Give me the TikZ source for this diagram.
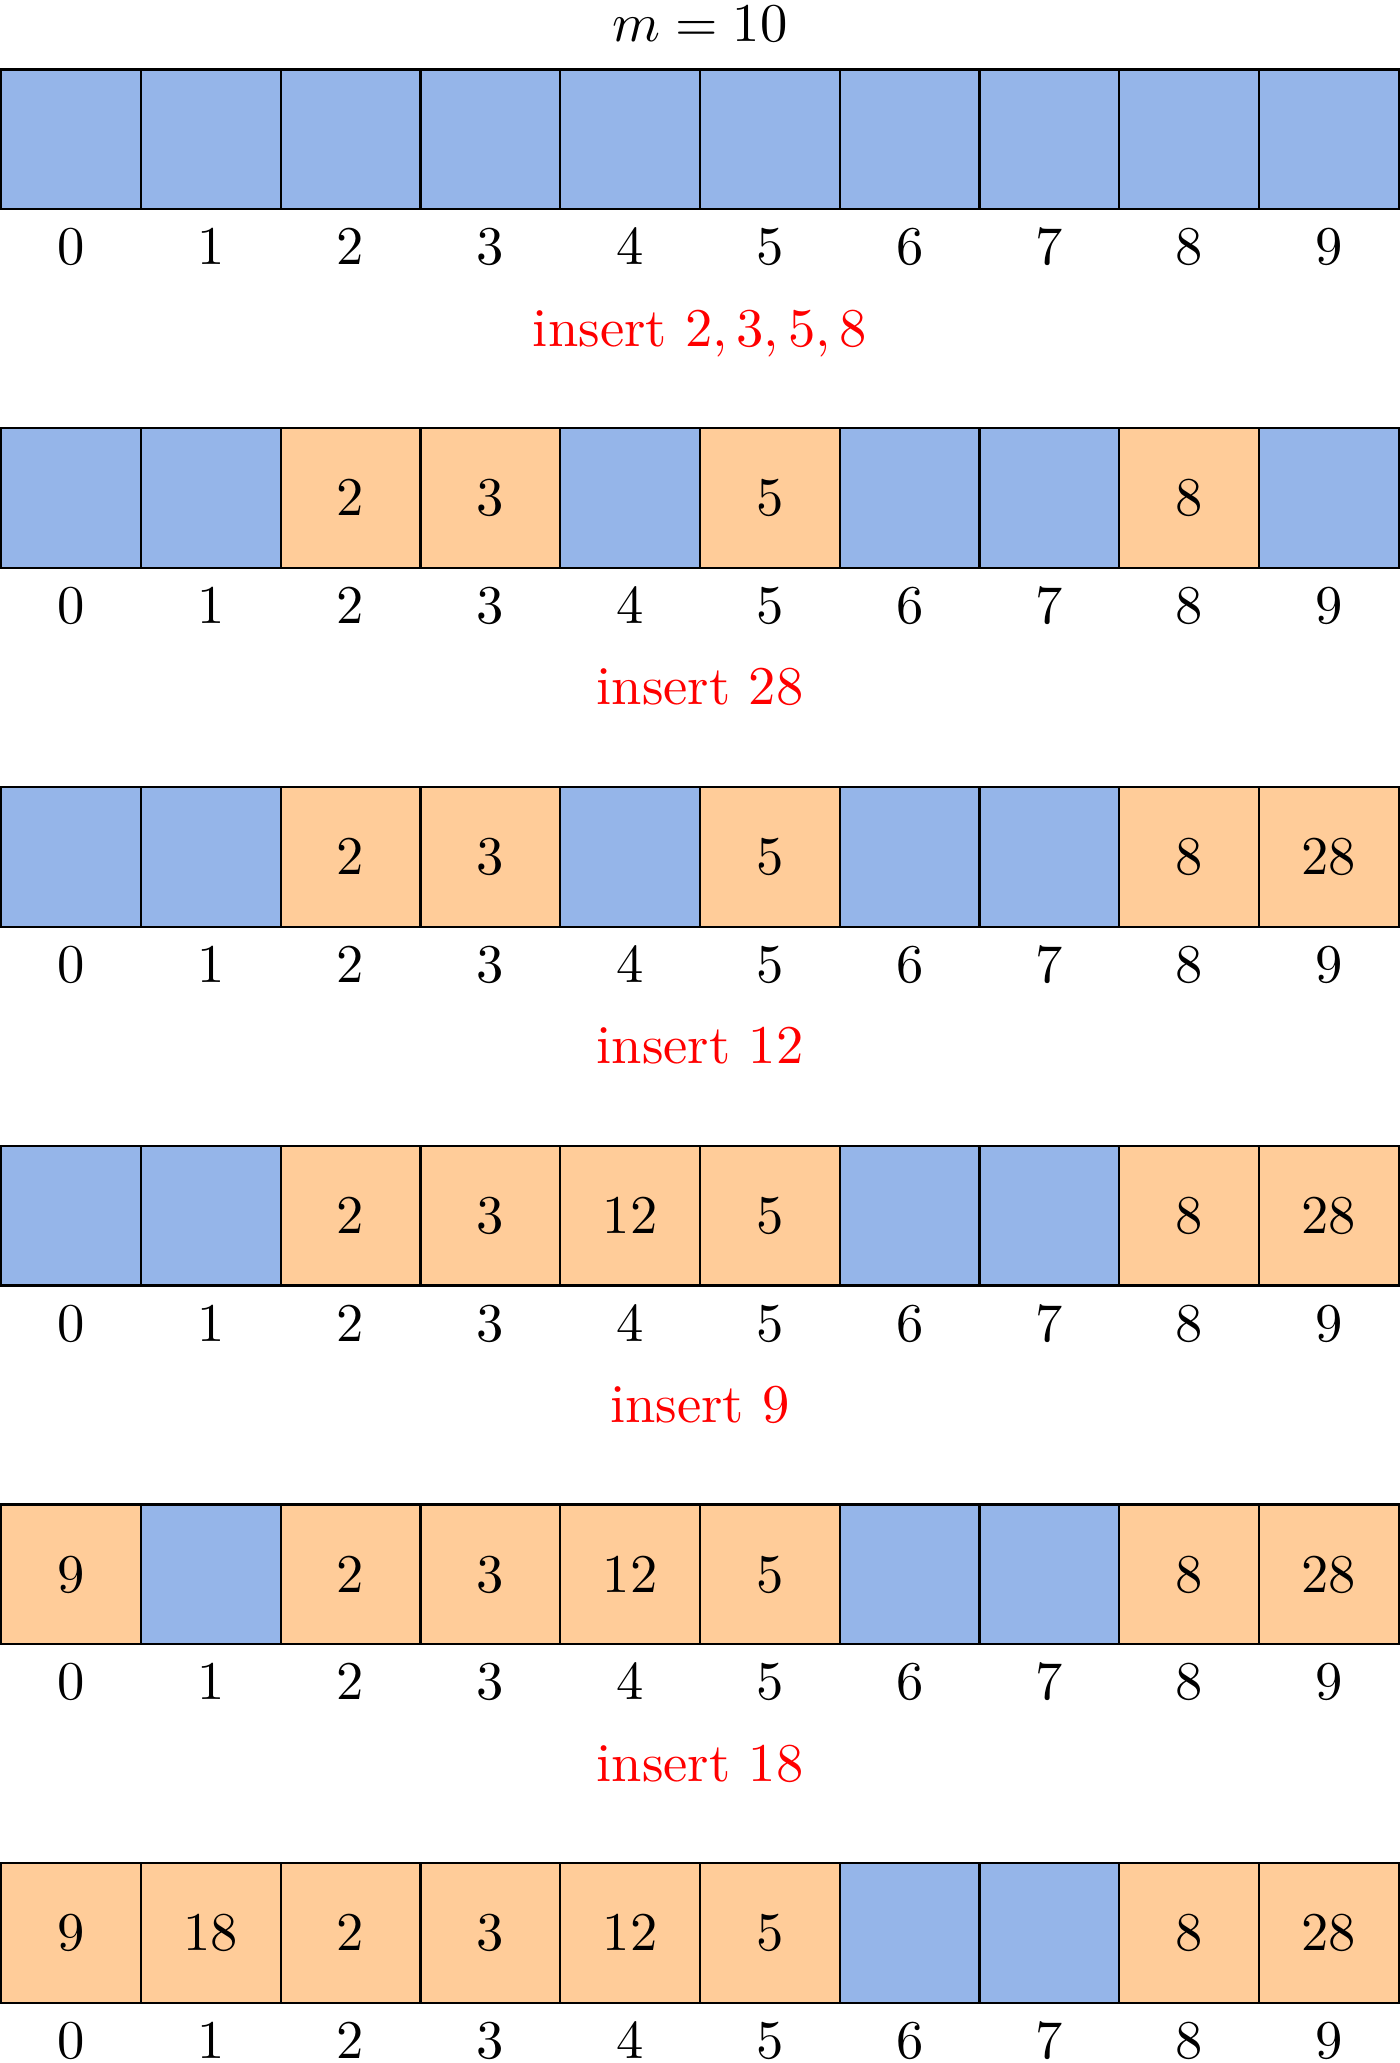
\documentclass[tikz,border=0pt]{standalone}
\usepackage{amsmath}
\usetikzlibrary{positioning}
\definecolor{free}{RGB}{149,181,233}
\definecolor{used}{RGB}{255,204,153}

\begin{document}
\begin{tikzpicture}[cell/.style={draw, line width=0.4pt, minimum size=0.9cm, inner sep=0pt, label distance=0.35pt},
                    ins/.style={red, anchor=base}]
   \useasboundingbox (-0.457,0.897) rectangle (8.557,-12.386);
   \node (title) [anchor=base] at (4.05,0.632) {$m = 10$};

   % empty table
   \foreach \s/\v [count=\i from 0] in {free/{},free/{},free/{},free/{},free/{},free/{},free/{},free/{},free/{},free/{}}
      \node[cell, fill=\s, label={[name=la\i]below:$\i$}] (a\i) at (0.9*\i,0) {$\v$};
   \node[ins] (ins1) at (4.05,-1.331) {insert $2,3,5,8$};

   \foreach \s/\v [count=\i from 0] in {free/{},free/{},used/2,used/3,free/{},used/5,free/{},free/{},used/8,free/{}}
      \node[cell, fill=\s, label={[name=lb\i]below:$\i$}] (b\i) at (0.9*\i,-2.31) {$\v$};
   \node[ins] (ins2) at (4.05,-3.641) {insert $28$};

   \foreach \s/\v [count=\i from 0] in {free/{},free/{},used/2,used/3,free/{},used/5,free/{},free/{},used/8,used/28}
      \node[cell, fill=\s, label={[name=lc\i]below:$\i$}] (c\i) at (0.9*\i,-4.62) {$\v$};
   \node[ins] (ins3) at (4.05,-5.951) {insert $12$};

   \foreach \s/\v [count=\i from 0] in {free/{},free/{},used/2,used/3,used/12,used/5,free/{},free/{},used/8,used/28}
      \node[cell, fill=\s, label={[name=ld\i]below:$\i$}] (d\i) at (0.9*\i,-6.93) {$\v$};
   \node[ins] (ins4) at (4.05,-8.261) {insert $9$};

   \foreach \s/\v [count=\i from 0] in {used/9,free/{},used/2,used/3,used/12,used/5,free/{},free/{},used/8,used/28}
      \node[cell, fill=\s, label={[name=le\i]below:$\i$}] (e\i) at (0.9*\i,-9.24) {$\v$};
   \node[ins] (ins5) at (4.05,-10.571) {insert $18$};

   \foreach \s/\v [count=\i from 0] in {used/9,used/18,used/2,used/3,used/12,used/5,free/{},free/{},used/8,used/28}
      \node[cell, fill=\s, label={[name=lf\i]below:$\i$}] (f\i) at (0.9*\i,-11.55) {$\v$};
\end{tikzpicture}
\end{document}
